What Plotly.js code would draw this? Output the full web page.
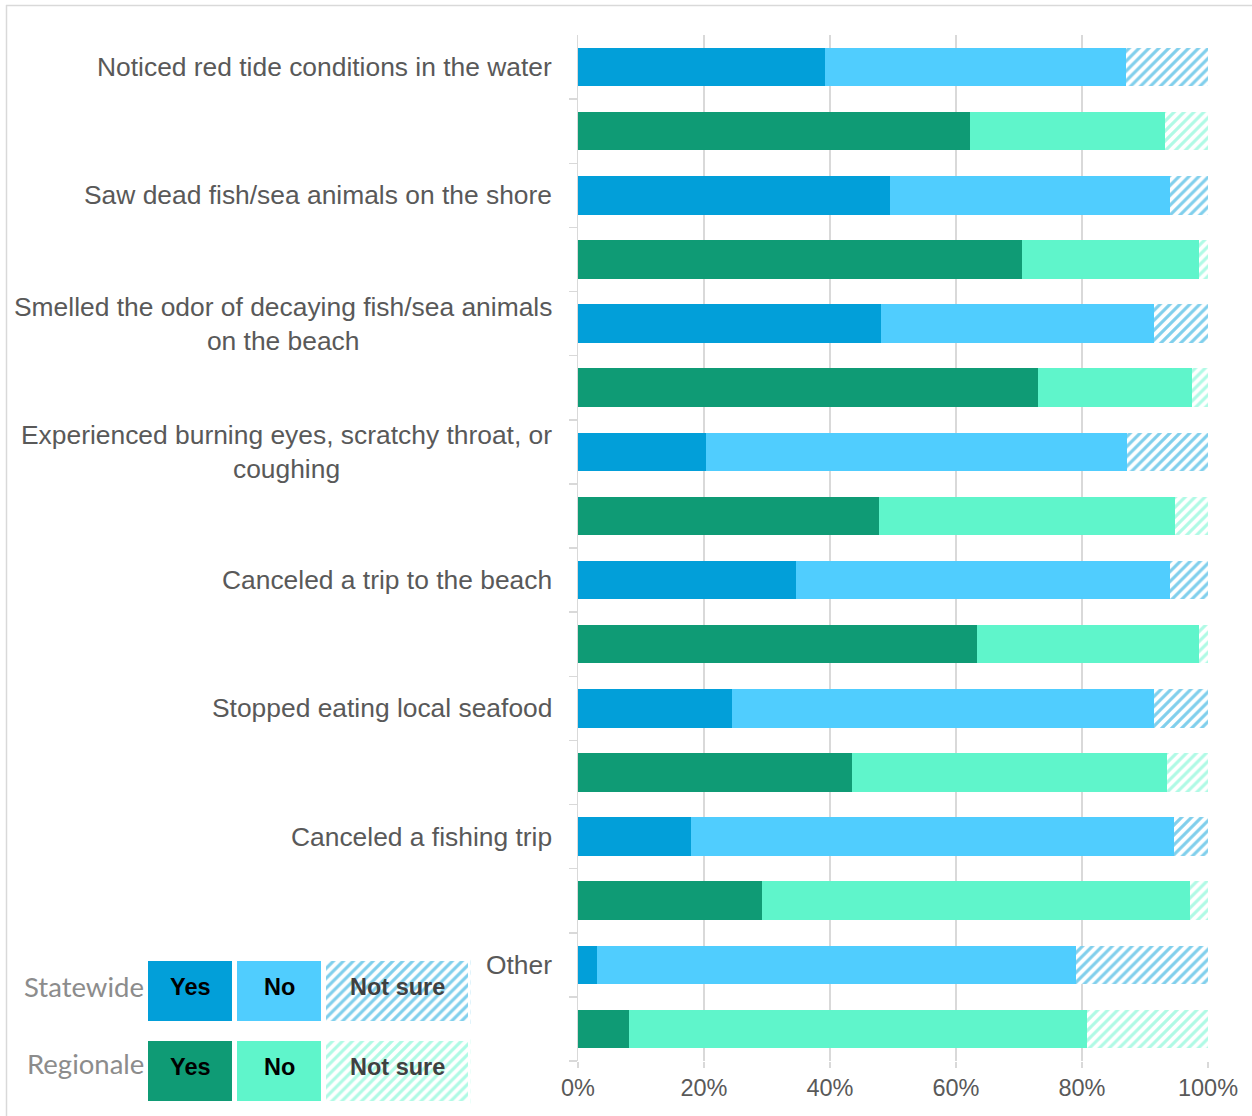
<!DOCTYPE html>
<html>
<head>
<meta charset="utf-8">
<script src="https://cdn.plot.ly/plotly-3.0.1.min.js"></script>
<style>
html, body { margin: 0; padding: 0; background: #ffffff; }
#chart { width: 1252px; height: 1116px; }
</style>
</head>
<body>
<div id="chart"></div>
<script>
// ---- data (percent of respondents) ----
const questions = [
  "Noticed red tide conditions in the water",
  "Saw dead fish/sea animals on the shore",
  "Smelled the odor of decaying fish/sea animals<br>on the beach",
  "Experienced burning eyes, scratchy throat, or<br>coughing",
  "Canceled a trip to the beach",
  "Stopped eating local seafood",
  "Canceled a fishing trip",
  "Other"
];
const statewideYes     = [39.2, 49.6, 48.1, 20.3, 34.6, 24.5, 18.0, 3.0];
const statewideNo      = [47.8, 44.3, 43.4, 66.9, 59.4, 66.9, 76.6, 76.1];
const statewideNotSure = [13.0, 6.1, 8.5, 12.8, 6.0, 8.6, 5.4, 20.9];
const regionalYes      = [62.2, 70.5, 73.0, 47.7, 63.4, 43.5, 29.2, 8.1];
const regionalNo       = [30.9, 28.0, 24.5, 47.1, 35.1, 50.0, 68.0, 72.7];
const regionalNotSure  = [6.9, 1.5, 2.5, 5.2, 1.5, 6.5, 2.8, 19.2];
const xTickValues = [0, 20, 40, 60, 80, 100];
const xTickLabels = ["0%", "20%", "40%", "60%", "80%", "100%"];
const legendRows = ["Statewide", "Regionale"];
const legendLabels = ["Yes", "No", "Not sure"];

// ---- geometry helpers ----
const W = 1252, H = 1116, ML = 0, MR = 44, MT = 35, MB = 0;
const PW = W - ML - MR, PH = H - MT - MB;
const px = x => (x - ML) / PW;
const py = y => (H - MB - y) / PH;

const COL = {
  sYes: "#029fd9", sNo: "#50cdfe",
  rYes: "#0f9b75", rNo: "#5ff5cb"
};
const LABEL_FONT = "Arial, 'Liberation Sans', sans-serif";
const HATCH = { shape: "/", bgcolor: "#ffffff", size: 7, solidity: 0.45, fillmode: "overlay" };

const yState = questions.map((_, i) => 2 * i);
const yRegion = questions.map((_, i) => 2 * i + 1);

function seg(vals, ys, color, hatched) {
  const marker = hatched
    ? { color: "#ffffff", line: { width: 0 }, pattern: Object.assign({ fgcolor: color }, HATCH) }
    : { color: color, line: { width: 0 } };
  return {
    type: "bar", orientation: "h", x: vals, y: ys, width: 0.6,
    marker: marker, hoverinfo: "skip", showlegend: false,
    xaxis: "x", yaxis: "y"
  };
}

const traces = [
  seg(statewideYes, yState, COL.sYes, false),
  seg(statewideNo, yState, COL.sNo, false),
  seg(statewideNotSure, yState, COL.sYes, true),
  seg(regionalYes, yRegion, COL.rYes, false),
  seg(regionalNo, yRegion, COL.rNo, false),
  seg(regionalNotSure, yRegion, COL.rNo, true)
];

// ---- legend drawn as bars on a helper subplot ----
const LEG_BOX = [1, 1, 1.65];
const legColors = [[COL.sYes, COL.rYes], [COL.sNo, COL.rNo], [COL.sYes, COL.rNo]];
const legTextColors = ["#000000", "#000000", "#404040"];
legendLabels.forEach((lab, j) => {
  const hatched = j === 2;
  const marker = hatched
    ? { color: "#ffffff", line: { color: "#ffffff", width: 5 }, pattern: Object.assign({ fgcolor: legColors[j] }, HATCH) }
    : { color: legColors[j], line: { color: "#ffffff", width: 5 } };
  traces.push({
    type: "bar", orientation: "h",
    x: legendRows.map(() => LEG_BOX[j]), y: legendRows,
    width: 0.8125, marker: marker,
    hoverinfo: "skip", showlegend: false, xaxis: "x2", yaxis: "y2"
  });
});

// ---- annotations ----
const annotations = questions.map((q, i) => ({
  xref: "paper", x: px(554), xanchor: "right",
  yref: "y", y: yState[i], yanchor: "middle",
  text: q, align: "center", showarrow: false,
  font: { family: LABEL_FONT, size: 26.4, color: "#595959" }
}));
legendRows.forEach((r, k) => {
  annotations.push({
    xref: "paper", x: px(146), xanchor: "right",
    yref: "paper", y: py(k === 0 ? 986 : 1063), yanchor: "middle",
    text: r, showarrow: false,
    font: { family: "Lato, 'Open Sans', sans-serif", size: 27.5, color: "#8c8c8c" }
  });
  // legend box captions, centred in each box (slightly raised as in the original)
  let cum = 0;
  legendLabels.forEach((lab, j) => {
    const mid = cum + LEG_BOX[j] / 2;
    cum += LEG_BOX[j];
    annotations.push({
      xref: "x2", x: mid, xanchor: "center",
      yref: "y2", y: k, yanchor: "middle", yshift: 4,
      text: lab, showarrow: false,
      font: { family: LABEL_FONT, size: 23.5, weight: "bold", color: legTextColors[j] }
    });
  });
});

const yBoundaries = [];
for (let b = 0.5; b <= 2 * questions.length - 0.5; b += 1) yBoundaries.push(b);

const layout = {
  width: W, height: H,
  margin: { l: ML, r: MR, t: MT, b: MB, pad: 0 },
  paper_bgcolor: "#ffffff", plot_bgcolor: "rgba(0,0,0,0)",
  barmode: "stack",
  showlegend: false,
  xaxis: {
    domain: [px(578), 1], range: [0, 100],
    tickmode: "array", tickvals: xTickValues, ticktext: xTickLabels,
    showgrid: true, gridcolor: "#d9d9d9", gridwidth: 1.5,
    zeroline: false, showline: false,
    ticks: "outside", ticklen: 6, tickcolor: "#d9d9d9", tickwidth: 1.5,
    tickfont: { family: LABEL_FONT, size: 23.5, color: "#595959" },
    fixedrange: true
  },
  yaxis: {
    domain: [py(1061), 1], range: [2 * questions.length - 0.5, -0.5],
    tickmode: "array", tickvals: yBoundaries, showticklabels: false,
    ticks: "outside", ticklen: 8, tickcolor: "#d9d9d9", tickwidth: 1.5,
    showgrid: false, zeroline: false,
    showline: true, linecolor: "#d9d9d9", linewidth: 1.5,
    fixedrange: true
  },
  xaxis2: {
    domain: [px(145.5), px(470.5)], range: [0, 3.65], anchor: "y2",
    visible: false, fixedrange: true
  },
  yaxis2: {
    domain: [py(1111), py(951)], range: [1.5, -0.5], anchor: "x2",
    type: "category", visible: false, fixedrange: true
  },
  annotations: annotations,
  shapes: [
    { type: "line", xref: "paper", yref: "paper", x0: px(6), x1: px(1252), y0: py(5.5), y1: py(5.5),
      line: { color: "#d9d9d9", width: 1.5 } },
    { type: "line", xref: "paper", yref: "paper", x0: px(6.5), x1: px(6.5), y0: py(5), y1: py(1116),
      line: { color: "#d9d9d9", width: 1.5 } }
  ]
};

Plotly.newPlot("chart", traces, layout, { displayModeBar: false, staticPlot: true });
</script>
</body>
</html>
